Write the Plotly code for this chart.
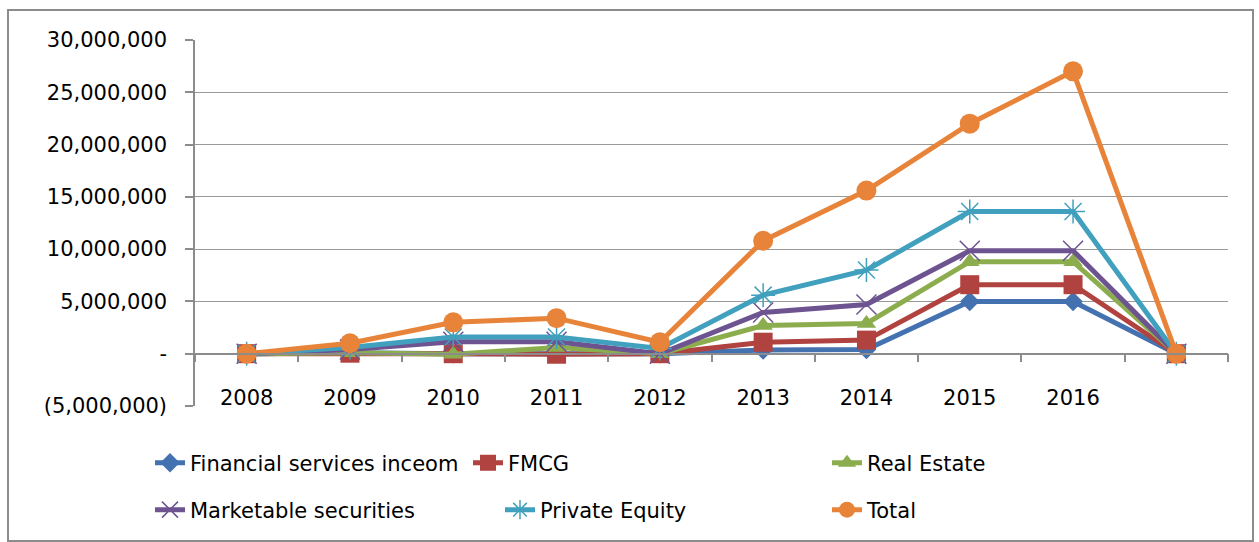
import plotly.graph_objects as go

years = ["2008", "2009", "2010", "2011", "2012", "2013", "2014", "2015", "2016", " "]

financial = [0, 100000, 0, 50000, 0, 350000, 400000, 5000000, 5000000, 0]
fmcg = [0, 50000, 0, -50000, 0, 1100000, 1300000, 6600000, 6600000, 0]
real_estate = [0, 100000, -50000, 600000, 0, 2700000, 2900000, 8800000, 8800000, 0]
marketable = [0, 400000, 1150000, 1150000, 0, 3950000, 4700000, 9850000, 9850000, 0]
private_equity = [0, 600000, 1600000, 1600000, 500000, 5600000, 8000000, 13600000, 13600000, 0]
total = [0, 1000000, 3000000, 3400000, 1100000, 10800000, 15600000, 22000000, 27000000, 0]

series_names = ["Financial services inceom", "FMCG", "Real Estate",
                "Marketable securities", "Private Equity", "Total"]
series_values = [financial, fmcg, real_estate, marketable, private_equity, total]
colors = ["#4472B0", "#B0433F", "#8CAD4E", "#6E5391", "#40A0BD", "#E8843A"]
symbols = ["diamond", "square", "triangle-up", "x-thin", "asterisk", "circle"]
msizes = [15, 19, 17, 20, 20, 20]

y_ticks = [-5000000, 0, 5000000, 10000000, 15000000, 20000000, 25000000, 30000000]
y_labels = ["(5,000,000)", "-", "5,000,000", "10,000,000", "15,000,000",
            "20,000,000", "25,000,000", "30,000,000"]

W, H = 1259, 542
L, R, T, B = 195, 1228, 40, 406

def px_x(p):
    return (p - L) / (R - L)

def px_y(p):
    return (B - p) / (B - T)

# legend text start positions (px) and row centres
leg_pos = [(190, 463), (508, 463), (867, 463), (190, 510), (540, 510), (867, 510)]

fig = go.Figure()
for i, (name, vals) in enumerate(zip(series_names, series_values)):
    thin = symbols[i] in ("x-thin", "asterisk")
    fig.add_trace(go.Scatter(
        x=years, y=vals, name=name, mode="lines+markers",
        line=dict(color=colors[i], width=5),
        marker=dict(symbol=symbols[i], size=msizes[i], color=colors[i],
                    line=dict(color=colors[i], width=1.5 if thin else 0)),
        legend="legend" if i == 0 else f"legend{i+1}",
    ))

font = dict(family="DejaVu Sans", size=21, color="#000000")
layout_legends = {}
for i, (tx, ty) in enumerate(leg_pos):
    key = "legend" if i == 0 else f"legend{i+1}"
    layout_legends[key] = dict(
        x=px_x(tx - 40), y=px_y(ty), xanchor="left", yanchor="middle",
        orientation="h", bgcolor="rgba(0,0,0,0)", borderwidth=0,
        font=font, itemwidth=30,
    )

fig.update_layout(
    width=W, height=H,
    margin=dict(l=L, r=W - R, t=T, b=H - B),
    paper_bgcolor="white", plot_bgcolor="white",
    font=font,
    showlegend=True,
    **layout_legends,
    xaxis=dict(
        type="category", range=[-0.5, 9.5],
        anchor="free", position=5 / 35,
        showline=True, linecolor="#8c8c8c", linewidth=1.5,
        ticks="outside", tickson="boundaries", ticklen=8, tickcolor="#8c8c8c",
        tickwidth=1.5, showgrid=False, zeroline=False,
        ticklabelstandoff=25, tickfont=font,
    ),
    yaxis=dict(
        range=[-5000000, 30000000], tickvals=y_ticks, ticktext=y_labels,
        showline=True, linecolor="#8c8c8c", linewidth=1.5,
        ticks="outside", ticklen=8, tickcolor="#8c8c8c", tickwidth=1.5,
        showgrid=True, gridcolor="#999999", gridwidth=1.2,
        zeroline=False, tickfont=font, ticklabelstandoff=14,
    ),
    shapes=[dict(
        type="rect", xref="paper", yref="paper",
        x0=px_x(8), x1=px_x(1253), y0=px_y(541), y1=px_y(10),
        line=dict(color="#8c8c8c", width=2), fillcolor="rgba(0,0,0,0)",
        layer="below",
    )],
)

fig.write_html("out.html")
